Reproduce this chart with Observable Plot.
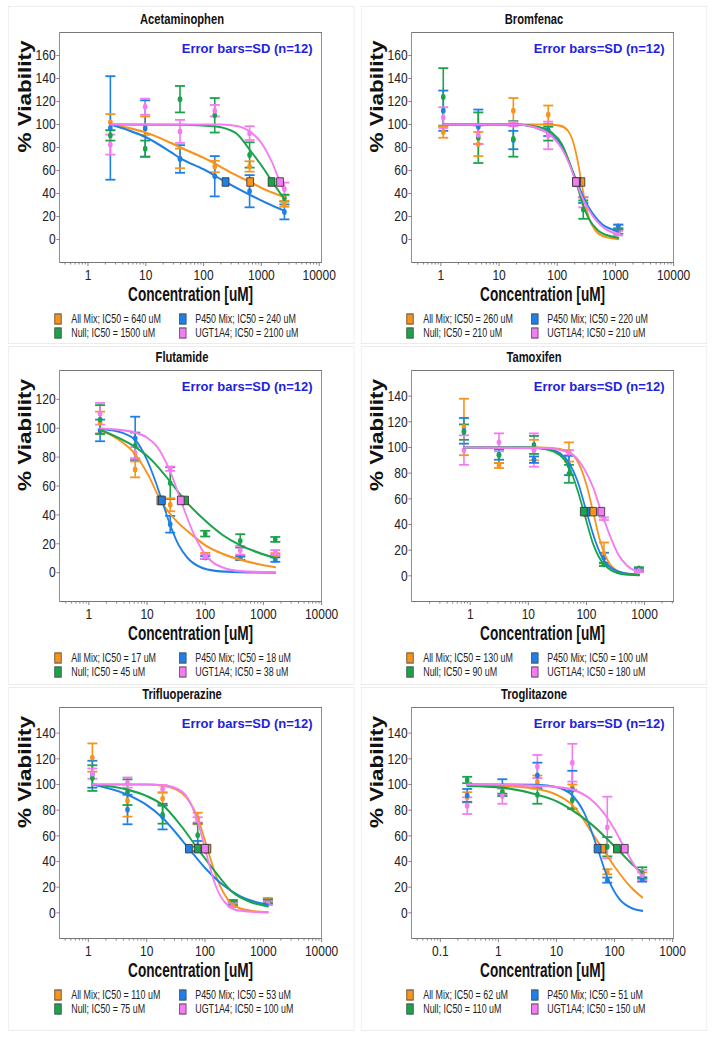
<!DOCTYPE html>
<html><head><meta charset="utf-8">
<script src="https://cdn.jsdelivr.net/npm/d3@7"></script>
<script src="https://cdn.jsdelivr.net/npm/@observablehq/plot@0.6"></script>
<style>
html,body{margin:0;padding:0;background:#fff;overflow:hidden;width:716px;height:1039px;}
#page{position:absolute;left:0;top:0;width:895px;height:1039px;transform:scaleX(0.8);transform-origin:0 0;font-family:'Liberation Sans',Arial,Helvetica,sans-serif;}
.box{position:absolute;border:1px solid #ececec;box-sizing:border-box;}
.title{position:absolute;font-weight:bold;font-size:14px;color:#111;white-space:nowrap;transform:translate(-50%,-50%);line-height:1;}
.plot{position:absolute;}
.lg{position:absolute;font-size:12.5px;color:#222;white-space:nowrap;line-height:1;transform:translateY(-50%) scaleX(0.89);transform-origin:0 50%;}
.sw{position:absolute;width:9.6px;height:11px;border:1px solid #555;box-sizing:border-box;transform:translateY(-50%);}
</style></head><body><div id="page"></div><script>
// ---------- shared ----------
const seriesNames = ["All Mix", "P450 Mix", "Null", "UGT1A4"];
const seriesColors = ["#F7941D", "#1E80E6", "#1BA34B", "#F47CF2"];
const drugNames = ["Acetaminophen", "Bromfenac", "Flutamide", "Tamoxifen", "Trifluoperazine", "Troglitazone"];
const errorNote = "Error bars=SD (n=12)";
const yLabel = "% Viability";
const xLabel = "Concentration [uM]";

// ---------- Acetaminophen ----------
const acetaminophenConc = [2.44, 9.77, 39.1, 156, 625, 2500];
const acetaminophenMean = [[102, 99, 70.5, 63.5, 63.5, 31], [97, 96.5, 70, 55, 42, 24], [90.5, 79, 122, 108, 73.5, 36], [82.5, 115.5, 94, 112, 92.5, 44]];
const acetaminophenSD = [[7, 8, 8.5, 5, 4.5, 2.5], [45, 24.5, 12, 17.5, 14, 6.5], [4.5, 7, 11.5, 15, 11, 3], [8.7, 7, 10, 5, 6, 5.5]];
const acetaminophenIC50 = [640, 240, 1500, 2100];
const acetaminophenCurves = [
  [[2.44,100],[5,97],[10,93],[27,84],[40,80],[100,71],[156,66],[300,58],[640,50],[1200,43],[2500,37]],
  [[2.44,100],[5,95],[10,89],[27,76],[40,70.5],[100,61],[240,50],[625,39],[1200,32],[2500,25]],
  [[2.44,100],[40,99.8],[150,98.5],[350,93],[650,77],[1150,60],[1500,51],[2000,42],[2500,35]],
  [[2.44,100],[200,100],[400,98.5],[625,94],[1000,84],[1500,68],[2100,50],[2500,42]]];
const acetaminophenXDomain = [0.323, 11000];
const acetaminophenXTicks = [1, 10, 100, 1000, 10000];
const acetaminophenYDomain = [-20, 180];
const acetaminophenYTicks = [0, 20, 40, 60, 80, 100, 120, 140, 160];

// ---------- Bromfenac ----------
const bromfenacConc = [1.1, 4.4, 17.6, 70, 280, 1120];
const bromfenacMean = [[93.5, 83, 112, 108.5, 34, 10.9], [112, 98, 86.5, 95, 34.5, 11.3], [124, 88.5, 87.5, 92, 26, 7], [106, 91, 100.5, 90.5, 32.5, 5.5]];
const bromfenacSD = [[5, 10.5, 11, 8, 2.5, 2.2], [17.5, 15, 8, 5, 2.5, 1.5], [25, 22, 15.5, 6, 8, 2], [9, 8, 2, 12, 4.5, 2]];
const bromfenacIC50 = [260, 220, 210, 210];
const bromfenacCurves = [
  [[1.1,100],[60,100],[110,99],[150,95],[190,84],[225,68],[260,50],[300,33],[350,19],[450,8],[600,3],[1120,0.3]],
  [[1.1,100],[20,100],[50,96],[80,91],[120,81],[160,67],[220,50],[300,34],[400,23],[600,13],[900,8.5],[1120,7]],
  [[1.1,100],[20,100],[50,97.5],[80,93],[120,83],[160,68],[210,50],[270,32],[350,18],[500,8],[800,3],[1120,1.5]],
  [[1.1,100],[20,100],[50,96],[80,90],[120,79],[160,66],[210,50],[290,33],[400,21],[600,11],[900,6],[1120,4.5]]];
const bromfenacXDomain = [0.314, 10000];
const bromfenacXTicks = [1, 10, 100, 1000, 10000];
const bromfenacYDomain = [-20, 180];
const bromfenacYTicks = [0, 20, 40, 60, 80, 100, 120, 140, 160];

// ---------- Flutamide ----------
const flutamideConc = [1.56, 6.25, 25, 100, 400, 1600];
const flutamideMean = [[104, 71.5, 47, 12.5, 10, 12.5], [98.5, 93, 33.5, 10.5, 10, 9], [106, 88, 62, 27, 22, 23], [110, 83, 72, 11, 15.5, 14]];
const flutamideSD = [[7.5, 5.5, 4.5, 1.2, 1, 1], [7.5, 15, 5.8, 1, 1.3, 1.5], [10, 9, 11, 2, 4.6, 1.7], [7.5, 4, 1.5, 1.5, 3, 1.6]];
const flutamideIC50 = [17, 18, 45, 38];
const flutamideCurves = [
  [[1.56,99],[3,93],[6.25,82],[11,66],[17,50],[30,37],[60,26],[100,19],[200,13],[400,9],[800,6],[1600,3.7]],
  [[1.56,99.5],[3,98],[6.25,92],[10,78],[14,63],[18,50],[25,33],[35,19],[50,10],[80,4],[150,1.2],[400,0.3],[1600,0]],
  [[1.56,99],[3,94],[6.25,87],[12,78],[25,63],[45,50],[100,36],[200,26],[400,19],[800,14],[1600,10]],
  [[1.56,100],[3,99],[6.25,97],[10,93.5],[15,87],[25,70],[38,50],[60,29],[100,12.5],[200,3.5],[400,1],[1600,0.2]]];
const flutamideXDomain = [0.314, 10000];
const flutamideXTicks = [1, 10, 100, 1000, 10000];
const flutamideYDomain = [-20, 140];
const flutamideYTicks = [0, 20, 40, 60, 80, 100, 120];

// ---------- Tamoxifen ----------
const tamoxifenConc = [0.78, 3.125, 12.5, 50, 200, 800];
const tamoxifenMean = [[116, 86, 98, 96.5, 17, 4.5], [113, 94.5, 90.5, 86, 14, 5], [112, 94, 102, 79.5, 9, 5.7], [98, 104, 98, 96, 44.5, 3.8]];
const tamoxifenSD = [[22, 2, 8, 7.5, 9, 1], [10, 4, 2.5, 7.5, 4, 1], [6, 6, 7, 7, 1.3, 1], [11.5, 7, 13, 2, 1, 1]];
const tamoxifenIC50 = [130, 100, 90, 180];
const tamoxifenCurves = [
  [[0.78,100],[15,100],[30,99.2],[50,96.5],[80,84],[100,71],[130,50],[170,28],[250,9.5],[400,2.5],[800,0.5]],
  [[0.78,100],[10,100],[20,99.2],[35,95.5],[50,88],[70,74],[100,50],[140,28],[200,12],[400,2.5],[800,0.8]],
  [[0.78,100],[10,100],[20,98.8],[35,94],[50,85],[70,67],[90,50],[130,25],[200,9],[400,1.5],[800,0.5]],
  [[0.78,100],[20,99.5],[50,96],[90,84],[130,69],[180,50],[250,32],[350,17],[500,8],[800,3]]];
const tamoxifenXDomain = [0.098, 3160];
const tamoxifenXTicks = [1, 10, 100, 1000];
const tamoxifenYDomain = [-20, 160];
const tamoxifenYTicks = [0, 20, 40, 60, 80, 100, 120, 140];

// ---------- Trifluoperazine ----------
const trifluoperazineConc = [1.17, 4.69, 18.75, 75, 300, 1200];
const trifluoperazineMean = [[121, 87.5, 89, 73.5, 8, 10], [108, 80.5, 75, 52, 7, 8.5], [105, 94, 76.5, 60.5, 8.5, 9], [108.5, 101.5, 96.5, 72.5, 6, 7.5]];
const trifluoperazineSD = [[11, 12.5, 5, 4.5, 1.5, 1.5], [10.5, 11.5, 10, 4, 1.5, 1.5], [10, 10, 7, 9, 1.5, 1.5], [4, 4, 3, 2, 1.5, 1.5]];
const trifluoperazineIC50 = [110, 53, 75, 100];
const trifluoperazineCurves = [
  [[1.17,100],[10,100],[20,99],[40,93.5],[75,74],[110,50],[160,27],[250,10],[400,3.5],[700,1.2],[1200,0.5]],
  [[1.17,100],[4.69,92],[10,84],[18.75,74],[35,60],[53,50],[100,35],[200,22],[400,13],[800,8],[1200,6.5]],
  [[1.17,100],[4.69,96],[10,91],[18.75,84],[40,67],[75,50],[150,32],[300,16],[600,8.5],[1200,5]],
  [[1.17,100],[10,100],[20,99.3],[40,94.5],[75,71],[100,50],[150,22],[250,5.5],[400,1.6],[1200,0.3]]];
const trifluoperazineXDomain = [0.321, 10000];
const trifluoperazineXTicks = [1, 10, 100, 1000, 10000];
const trifluoperazineYDomain = [-20, 160];
const trifluoperazineYTicks = [0, 20, 40, 60, 80, 100, 120, 140];

// ---------- Troglitazone ----------
const troglitazoneConc = [0.29, 1.17, 4.69, 18.75, 75, 300];
const troglitazoneMean = [[90, 94.5, 102, 98, 32, 29.5], [91.5, 98.5, 107, 96, 25.5, 26], [103.5, 94, 92, 88, 51.5, 31], [83.5, 91, 114, 117, 66.5, 29.5]];
const troglitazoneSD = [[4, 3, 5, 2, 2, 2], [5, 5.6, 10, 14.7, 2, 1.7], [2.5, 3, 7, 7, 7.5, 4.5], [6.5, 6, 9, 14.7, 24, 4]];
const troglitazoneIC50 = [62, 51, 110, 150];
const troglitazoneCurves = [
  [[0.29,100],[1.17,99],[4.69,96.5],[10,92],[18.75,84],[30,72],[40,63],[62,50],[100,36],[200,19],[300,12]],
  [[0.29,100],[1.17,99.9],[4.69,99.7],[10,98],[18.75,91.5],[30,78],[51,50],[75,28],[120,11],[200,3.5],[300,1.5]],
  [[0.29,99],[1.17,97.5],[4.69,92],[10,87],[18.75,80],[40,69],[75,57.5],[110,50],[200,38],[300,31]],
  [[0.29,100],[1.17,99.8],[4.69,99],[10,98],[18.75,96],[40,88],[75,74],[100,65],[150,50],[200,40],[300,28]]];
const troglitazoneXDomain = [0.032, 1040];
const troglitazoneXTicks = [0.1, 1, 10, 100, 1000];
const troglitazoneYDomain = [-20, 160];
const troglitazoneYTicks = [0, 20, 40, 60, 80, 100, 120, 140];

// ---------- layout ----------
const SX = 0.8;
const X = v => v / SX;
const page = document.getElementById("page");
const frameL = [59, 411], frameR = [321, 673];
const frameT = [32, 370, 707], frameB = [262, 601, 938];
const boxX = [[8, 354], [361, 707]];
const boxY = [[6, 344], [346, 685], [687, 1031]];

const panels = [
  {conc: acetaminophenConc, mean: acetaminophenMean, sd: acetaminophenSD, ic50: acetaminophenIC50, curves: acetaminophenCurves, xDomain: acetaminophenXDomain, xTicks: acetaminophenXTicks, yDomain: acetaminophenYDomain, yTicks: acetaminophenYTicks},
  {conc: bromfenacConc, mean: bromfenacMean, sd: bromfenacSD, ic50: bromfenacIC50, curves: bromfenacCurves, xDomain: bromfenacXDomain, xTicks: bromfenacXTicks, yDomain: bromfenacYDomain, yTicks: bromfenacYTicks},
  {conc: flutamideConc, mean: flutamideMean, sd: flutamideSD, ic50: flutamideIC50, curves: flutamideCurves, xDomain: flutamideXDomain, xTicks: flutamideXTicks, yDomain: flutamideYDomain, yTicks: flutamideYTicks},
  {conc: tamoxifenConc, mean: tamoxifenMean, sd: tamoxifenSD, ic50: tamoxifenIC50, curves: tamoxifenCurves, xDomain: tamoxifenXDomain, xTicks: tamoxifenXTicks, yDomain: tamoxifenYDomain, yTicks: tamoxifenYTicks},
  {conc: trifluoperazineConc, mean: trifluoperazineMean, sd: trifluoperazineSD, ic50: trifluoperazineIC50, curves: trifluoperazineCurves, xDomain: trifluoperazineXDomain, xTicks: trifluoperazineXTicks, yDomain: trifluoperazineYDomain, yTicks: trifluoperazineYTicks},
  {conc: troglitazoneConc, mean: troglitazoneMean, sd: troglitazoneSD, ic50: troglitazoneIC50, curves: troglitazoneCurves, xDomain: troglitazoneXDomain, xTicks: troglitazoneXTicks, yDomain: troglitazoneYDomain, yTicks: troglitazoneYTicks}
];

function minorTicks(domain) {
  const out = [];
  for (let e = Math.floor(Math.log10(domain[0])); e <= Math.ceil(Math.log10(domain[1])); e++) {
    for (let k = 2; k <= 9; k++) {
      const v = k * Math.pow(10, e);
      if (v >= domain[0] && v <= domain[1]) out.push(v);
    }
  }
  return out;
}

const capSymbol = {draw(ctx, size) { const w = Math.sqrt(size / Math.PI); ctx.moveTo(-w, 0); ctx.lineTo(w, 0); }};
const axisColor = "#777";

function el(cls, css, text) {
  const d = document.createElement("div");
  d.className = cls;
  Object.assign(d.style, css);
  if (text != null) d.textContent = text;
  page.appendChild(d);
  return d;
}

function stretchText(svg, content, k) {
  d3.select(svg).selectAll("text").each(function() {
    if (this.textContent === content) {
      const t = this.getAttribute("transform") || "";
      this.setAttribute("transform", t + ` scale(${k},1)`);
    }
  });
}

panels.forEach((p, idx) => {
  const col = idx % 2, row = Math.floor(idx / 2);
  const fl = frameL[col], fr = frameR[col], ft = frameT[row], fb = frameB[row];

  el("box", {left: X(boxX[col][0]) + "px", top: boxY[row][0] + "px", width: X(boxX[col][1] - boxX[col][0]) + "px", height: (boxY[row][1] - boxY[row][0]) + "px"});
  el("title", {left: X((fl + fr) / 2 - 8) + "px", top: (ft - 13) + "px"}, drugNames[idx]);

  const pts = [];
  p.conc.forEach((c, i) => seriesNames.forEach((s, j) => pts.push({series: s, c, m: p.mean[j][i], sd: p.sd[j][i]})));
  const curvePts = [];
  p.curves.forEach((arr, j) => arr.forEach(([x, y]) => curvePts.push({series: seriesNames[j], x, y})));
  const ic = p.ic50.map((v, j) => ({series: seriesNames[j], x: v, y: 50}));

  const mL = 52, mR = 30, mT = 6, mB = 50;
  const svg = Plot.plot({
    width: X(fr - fl + mL + mR), height: fb - ft + mT + mB,
    marginLeft: X(mL), marginRight: X(mR), marginTop: mT, marginBottom: mB,
    x: {type: "log", domain: p.xDomain, label: null},
    y: {domain: p.yDomain, label: null},
    color: {domain: seriesNames, range: seriesColors},
    style: {fontFamily: "'Liberation Sans', Arial, Helvetica, sans-serif", fontSize: "15px", color: "#222", background: "transparent", overflow: "visible"},
    marks: [
      Plot.axisX({ticks: minorTicks(p.xDomain), tickSize: 2.5, tickFormat: () => "", stroke: axisColor, label: null}),
      Plot.axisX({ticks: p.xTicks, tickSize: 4, tickPadding: 2.5, tickFormat: d => String(d), stroke: axisColor, fill: "#222", label: null}),
      Plot.axisY({ticks: p.yTicks, tickSize: 3.5, tickPadding: 1.5, stroke: axisColor, fill: "#222", label: null}),
      Plot.ruleX(pts, {x: "c", y1: d => d.m - d.sd, y2: d => d.m + d.sd, stroke: "series", strokeWidth: 2}),
      Plot.dot(pts, {x: "c", y: d => d.m - d.sd, symbol: capSymbol, r: 6.25, stroke: "series", strokeWidth: 1.8}),
      Plot.dot(pts, {x: "c", y: d => d.m + d.sd, symbol: capSymbol, r: 6.25, stroke: "series", strokeWidth: 1.8}),
      Plot.dot(pts, {x: "c", y: "m", r: 2.9, fill: "series"}),
      Plot.line(curvePts, {x: "x", y: "y", z: "series", stroke: "series", strokeWidth: 2.2, curve: "monotone-x"}),
      Plot.dot(ic, {x: "x", y: "y", symbol: "square", r: 4.8, fill: "series", stroke: "#3a3a3a", strokeWidth: 1}),
      Plot.frame({stroke: "#777"}),
      Plot.text([errorNote], {frameAnchor: "top-right", dx: -X(9), dy: 16, lineAnchor: "middle", textAnchor: "end", fill: "#2222DD", fontWeight: "bold", fontSize: 13}),
      Plot.text([yLabel], {frameAnchor: "left", dx: -X(34), dy: 5, rotate: -90, fontWeight: "bold", fontSize: 22.5, fill: "#111"}),
      Plot.text([xLabel], {frameAnchor: "bottom", dy: 38, fontWeight: "bold", fontSize: 19.5, fill: "#111"})
    ]
  });
  stretchText(svg, errorNote, 1 / SX);     // the blue note is not condensed
  stretchText(svg, xLabel, 0.875);         // the axis title is more condensed
  const holder = el("plot", {left: X(fl - mL) + "px", top: (ft - mT) + "px"});
  holder.appendChild(svg);

  // legend
  const slots = [[0, 0], [1, 0], [0, 1], [1, 1]];
  seriesNames.forEach((s, j) => {
    const [c, r] = slots[j];
    const y = fb + 57 + r * 13.5;
    const sqX = c === 0 ? fl - 5 : fl + 120;
    const txX = c === 0 ? fl + 12.5 : fl + 136;
    el("sw", {left: X(sqX) + "px", top: y + "px", background: seriesColors[j]});
    el("lg", {left: X(txX) + "px", top: y + "px"}, `${s}; IC50 = ${p.ic50[j]} uM`);
  });
});
</script></body></html>
